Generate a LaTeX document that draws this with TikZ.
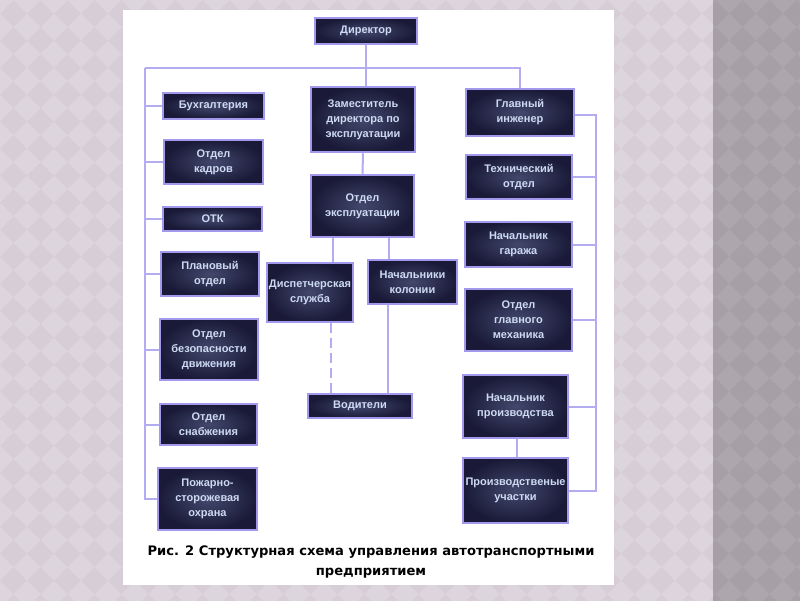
\documentclass[tikz,border=0pt]{standalone}
\usepackage{fontspec}
\setmainfont{Liberation Sans}
\newfontfamily\capfont{DejaVu Sans}
\definecolor{bgmauve}{RGB}{214,205,214}
\definecolor{bgdiam}{RGB}{221,213,221}
\definecolor{strip}{RGB}{166,159,166}
\definecolor{stripdiam}{RGB}{173,166,173}
\definecolor{boxin}{RGB}{66,72,108}
\definecolor{boxout}{RGB}{26,26,56}
\definecolor{boxborder}{RGB}{162,152,236}
\definecolor{boxtext}{RGB}{205,218,242}
\definecolor{conn}{RGB}{180,172,240}
\begin{document}
\begin{tikzpicture}[x=1pt,y=-1pt,
  orgbox/.style={draw=boxborder, line width=2.5pt, inner color=boxin, outer color=boxout,
    text=boxtext, font=\bfseries\fontsize{11}{15}\selectfont, align=center, inner sep=0pt},
  link/.style={draw=conn, line width=2pt},
  linkdash/.style={draw=conn, line width=2pt, dash pattern=on 10pt off 5pt}]
\useasboundingbox (0,0) rectangle (800,600);
% background
\fill[bgmauve] (-10,-10) rectangle (713,610);
\fill[strip] (713,-10) rectangle (810,610);
\begin{scope}
\clip (-10,-10) rectangle (713,610);
\foreach \i in {0,...,27} \foreach \j in {0,...,23}
  \fill[bgdiam] (\i*27,\j*27) +(0,-13.5) -- +(13.5,0) -- +(0,13.5) -- +(-13.5,0) -- cycle;
\end{scope}
\begin{scope}
\clip (713,-10) rectangle (810,610);
\foreach \i in {26,...,30} \foreach \j in {0,...,23}
  \fill[stripdiam] (\i*27,\j*27) +(0,-13.5) -- +(13.5,0) -- +(0,13.5) -- +(-13.5,0) -- cycle;
\end{scope}
\fill[white] (123,10) rectangle (614,585);
% boxes
\node[orgbox, minimum width=102pt, minimum height=26pt] (dir) at (366,31) {Директор};
\node[orgbox, minimum width=101pt, minimum height=26pt] (buh) at (213.5,106) {Бухгалтерия};
\node[orgbox, minimum width=104pt, minimum height=65pt] (zam) at (363,119.5) {Заместитель\\директора по\\эксплуатации};
\node[orgbox, minimum width=108pt, minimum height=47pt] (glav) at (520,112.5) {Главный\\инженер};
\node[orgbox, minimum width=99pt, minimum height=44pt] (kadr) at (213.5,162) {Отдел\\кадров};
\node[orgbox, minimum width=99pt, minimum height=24pt] (otk) at (212.5,219) {ОТК};
\node[orgbox, minimum width=98pt, minimum height=44pt] (plan) at (210,274) {Плановый\\отдел};
\node[orgbox, minimum width=103pt, minimum height=62pt] (expl) at (362.5,206) {Отдел\\эксплуатации};
\node[orgbox, minimum width=86pt, minimum height=59pt] (disp) at (310,292.5) {Диспетчерская\\служба};
\node[orgbox, minimum width=89pt, minimum height=44pt] (nach) at (412.5,282) {Начальники\\колонии};
\node[orgbox, minimum width=106pt, minimum height=44pt] (tech) at (519,177) {Технический\\отдел};
\node[orgbox, minimum width=107pt, minimum height=45pt] (gar) at (518.5,244.5) {Начальник\\гаража};
\node[orgbox, minimum width=107pt, minimum height=62pt] (meh) at (518.5,320) {Отдел\\главного\\механика};
\node[orgbox, minimum width=98pt, minimum height=61pt] (bez) at (209,349.5) {Отдел\\безопасности\\движения};
\node[orgbox, minimum width=97pt, minimum height=41pt] (snab) at (208.5,424.5) {Отдел\\снабжения};
\node[orgbox, minimum width=104pt, minimum height=24pt] (vod) at (360,406) {Водители};
\node[orgbox, minimum width=105pt, minimum height=63pt] (nprod) at (515.5,406.5) {Начальник\\производства};
\node[orgbox, minimum width=105pt, minimum height=65pt] (uch) at (515.5,490.5) {Производственые\\участки};
\node[orgbox, minimum width=99pt, minimum height=62pt] (pozh) at (207.5,499) {Пожарно-\\сторожевая\\охрана};
% connectors
\coordinate (tl) at (145,68);
\coordinate (tr) at (520,68);
\coordinate (rb) at (596,115);
\draw[link] (dir.south) -- (dir.south |- zam.north);
\draw[link] (tl) -- (tr) -- (glav.north);
\draw[link] (tl) -- (tl |- pozh.west) -- (pozh.west);
\foreach \n in {buh,kadr,otk,plan,bez,snab}
  \draw[link] (\n.west) -- (\n.west -| tl);
\draw[link] (glav.east |- rb) -- (rb) -- (rb |- uch.east) -- (uch.east);
\foreach \n in {tech,gar,meh,nprod}
  \draw[link] (\n.east) -- (\n.east -| rb);
\draw[link] (zam.south) -- (expl.north);
\draw[link] ([xshift=-29.5pt]expl.south) -- ([xshift=-29.5pt]expl.south |- disp.north);
\draw[link] ([xshift=26.5pt]expl.south) -- ([xshift=26.5pt]expl.south |- nach.north);
\draw[linkdash] ([xshift=21pt]disp.south) -- ([xshift=21pt]disp.south |- vod.north);
\draw[link] ([xshift=-24.5pt]nach.south) -- ([xshift=-24.5pt]nach.south |- vod.north);
\draw[link] ([xshift=1.5pt]nprod.south) -- ([xshift=1.5pt]uch.north);
% caption
\node[font=\capfont\bfseries\fontsize{13.1}{20}\selectfont, align=center, text=black] (cap) at (371,562)
  {Рис. 2 Структурная схема управления автотранспортными\\предприятием};
\end{tikzpicture}
\end{document}
